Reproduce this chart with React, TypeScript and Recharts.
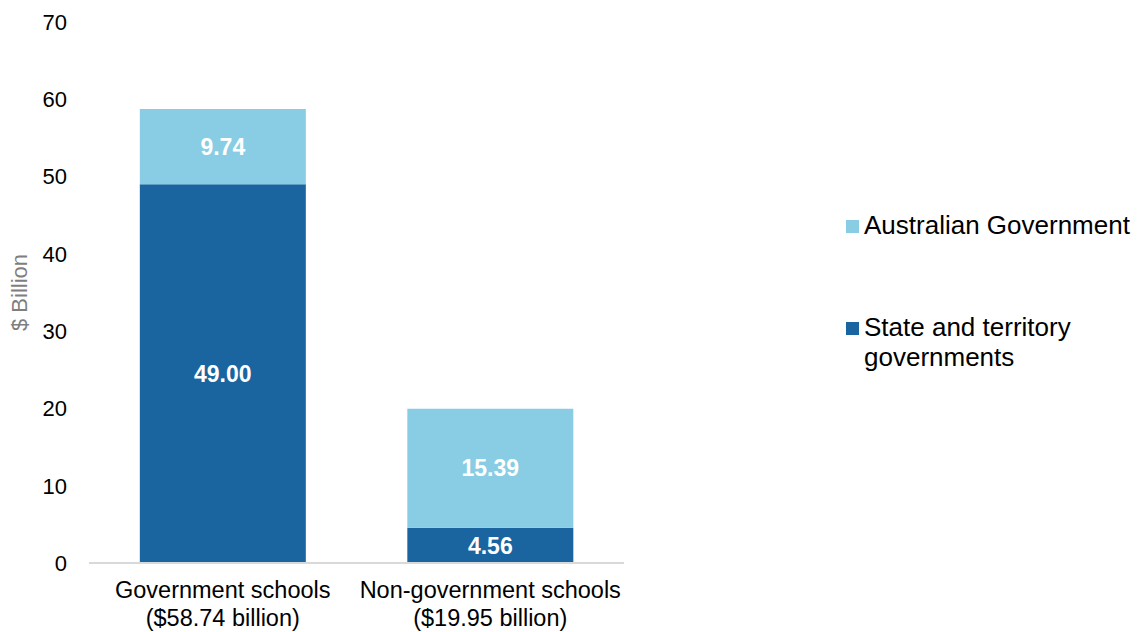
import React from 'react';
import { BarChart, Bar, XAxis, YAxis, LabelList } from 'recharts';

const categories = ['Government schools', 'Non-government schools'];
const totals = ['($58.74 billion)', '($19.95 billion)'];
const stateValues = [49.0, 4.56];
const federalValues = [9.74, 15.39];
const yTicks = [0, 10, 20, 30, 40, 50, 60, 70];

const DARK = '#1a64a0';
const LIGHT = '#89cde4';
const FONT = '"Liberation Sans", Arial, sans-serif';

const data = categories.map((name, i) => ({
  name,
  total: totals[i],
  state: stateValues[i],
  federal: federalValues[i],
}));

const legendItems = [
  { color: LIGHT, lines: ['Australian Government'] },
  { color: DARK, lines: ['State and territory', 'governments'] },
];

const CategoryTick = (props: any) => {
  const { x, y, payload, index } = props;
  return (
    <text x={x} y={y} textAnchor="middle" fontFamily={FONT} fontSize={23.5} fill="#000">
      <tspan x={x} dy={27}>{payload.value}</tspan>
      <tspan x={x} dy={28}>{totals[index]}</tspan>
    </text>
  );
};

// plain html legend, sits to the right of the plot
const LegendBox = () => (
  <div style={{ position: 'absolute', left: 846, top: 210, fontFamily: FONT, fontSize: 26, color: '#000' }}>
    {legendItems.map((item, i) => (
      <div key={i} style={{ display: 'flex', alignItems: 'flex-start', marginBottom: i === 0 ? 72 : 0 }}>
        <span style={{ width: 13, height: 13, background: item.color, marginTop: 10, marginRight: 5, flexShrink: 0 }} />
        <span style={{ lineHeight: '30px' }}>
          {item.lines.map((l, j) => (
            <div key={j}>{l}</div>
          ))}
        </span>
      </div>
    ))}
  </div>
);

const YLabel = (props: any) => {
  const { viewBox } = props;
  const cy = viewBox.y + viewBox.height / 2;
  return (
    <text
      x={19}
      y={cy}
      transform={`rotate(-90, 19, ${cy})`}
      textAnchor="middle"
      dominantBaseline="central"
      fontFamily={FONT}
      fontSize={22}
      fill="#7f7f7f"
    >
      $ Billion
    </text>
  );
};

export default function App() {
  return (
    <div style={{ position: 'absolute', left: 0, top: 0, width: 1144, height: 632, background: '#fff' }}>
      <BarChart
        width={1144}
        height={632}
        data={data}
        margin={{ top: 22, right: 520, bottom: 9, left: 0 }}
        barCategoryGap="19%"
      >
        <XAxis
          dataKey="name"
          axisLine={{ stroke: '#d9d9d9', strokeWidth: 2 }}
          tickLine={false}
          height={60}
          tick={<CategoryTick />}
          interval={0}
        />
        <YAxis
          width={89}
          domain={[0, 70]}
          ticks={yTicks}
          axisLine={false}
          tickLine={false}
          tickMargin={16}
          tick={{ fontFamily: FONT, fontSize: 22, fill: '#000' }}
          label={<YLabel />}
        />
        <Bar dataKey="state" stackId="a" fill={DARK} isAnimationActive={false} name="State and territory governments">
          <LabelList
            dataKey="state"
            position="center"
            formatter={(v: any) => Number(v).toFixed(2)}
            fill="#fff"
            fontFamily={FONT}
            fontSize={23}
            fontWeight="bold"
          />
        </Bar>
        <Bar dataKey="federal" stackId="a" fill={LIGHT} isAnimationActive={false} name="Australian Government">
          <LabelList
            dataKey="federal"
            position="center"
            formatter={(v: any) => Number(v).toFixed(2)}
            fill="#fff"
            fontFamily={FONT}
            fontSize={23}
            fontWeight="bold"
          />
        </Bar>
      </BarChart>
      <LegendBox />
    </div>
  );
}
